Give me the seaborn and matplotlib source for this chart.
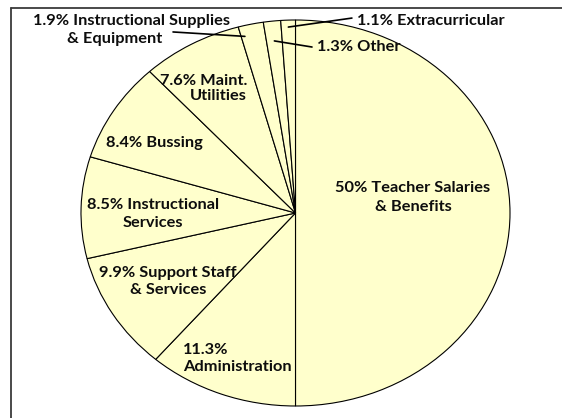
import numpy as np
import matplotlib
matplotlib.use("Agg")
import matplotlib.pyplot as plt
from matplotlib.lines import Line2D
import seaborn as sns

# ------------------------------------------------------------------
# DONNÉES
# ------------------------------------------------------------------
categories = ["Teacher Salaries & Benefits", "Administration", "Support Staff & Services",
              "Instructional Services", "Bussing", "Maint. Utilities",
              "Instructional Supplies & Equipment", "Other", "Extracurricular"]
shares = [50, 11.3, 9.9, 8.5, 8.4, 7.6, 1.9, 1.3, 1.1]
labels = ["50% Teacher Salaries\n& Benefits", "11.3%\nAdministration",
          "9.9% Support Staff\n& Services", "8.5% Instructional\nServices",
          "8.4% Bussing", "7.6% Maint.\nUtilities",
          "1.9% Instructional Supplies\n& Equipment", "1.3% Other",
          "1.1% Extracurricular"]

# ------------------------------------------------------------------
# FIGURE
# ------------------------------------------------------------------
sns.set_theme(style="white")
plt.rcParams['font.family'] = ['Lato', 'DejaVu Sans']

W, H = 562, 418
fig = plt.figure(figsize=(W / 100, H / 100), dpi=100)
fig.patch.set_facecolor("white")

# pie is stretched horizontally (ellipse) like the original
cx, cy, rx, ry = 295.5, 213, 214.5, 193
ax = fig.add_axes([(cx - rx) / W, (H - cy - ry) / H, 2 * rx / W, 2 * ry / H])

wedges, _ = ax.pie(shares, startangle=90, counterclock=False,
                   colors=["#FFFFCC"] * len(shares),
                   wedgeprops=dict(edgecolor="black", linewidth=0.8))
ax.set_aspect("auto")
ax.set_xlim(-1, 1)
ax.set_ylim(-1, 1)
ax.axis("off")

txt = dict(fontsize=11.8, fontweight="bold", color="#0d0d0d")

# labels inside slices (x, y, ha, multialign, linespacing)
inside = [
    (0.548, 0.078, "center", "center", 1.46),
    (-0.524, -0.754, "left", "left", 1.33),
    (-0.594, -0.355, "center", "center", 1.2),
    (-0.664, -0.005, "center", "center", 1.4),
    (-0.660, 0.363, "center", "center", 1.2),
    (-0.43, 0.645, "center", "right", 1.08),
]
for lab, (x, y, ha, ma, ls) in zip(labels[:6], inside):
    ax.text(x, y, lab, ha=ha, va="center", multialignment=ma,
            linespacing=ls, **txt)

# small slices: labels outside with leader lines
# (one anchor per text line, ha, leader start, leader radius, pos in wedge)
outside = [
    ([(-0.765, 0.995), (-0.844, 0.902)], "center", (-0.571, 0.938), 0.945, 0.85),
    ([(0.100, 0.860)], "left", (0.077, 0.860), 0.897, 0.5),
    ([(0.287, 0.995)], "left", (0.263, 1.010), 0.964, 0.5),
]
for w, lab, (pos, ha, start, r, frac) in zip(wedges[6:], labels[6:], outside):
    for line, (x, y) in zip(lab.split("\n"), pos):
        ax.text(x, y, line, ha=ha, va="center", **txt)
    ang = np.deg2rad(w.theta1 + frac * (w.theta2 - w.theta1))
    ax.plot([start[0], r * np.cos(ang)], [start[1], r * np.sin(ang)],
            color="black", lw=1.2, clip_on=False)

# chart border (only left and top visible)
bx, by = 11 / W, 1 - 7.5 / H
fig.add_artist(Line2D([bx, bx], [0, by], transform=fig.transFigure,
                      color="#3a3a3a", lw=1.3))
fig.add_artist(Line2D([bx, 1], [by, by], transform=fig.transFigure,
                      color="#3a3a3a", lw=1.3))

fig.savefig("out.png", dpi=100)
